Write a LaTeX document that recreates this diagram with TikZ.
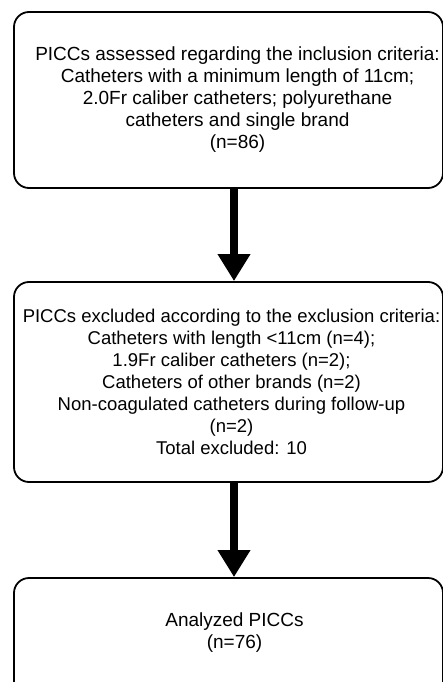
\documentclass[tikz,border=0pt]{standalone}
\usepackage{fontspec}
\setmainfont{Liberation Sans}
\usetikzlibrary{arrows.meta,positioning}
\tikzset{
  flowbox/.style={draw, line width=1.8pt, rounded corners=15pt, minimum width=429pt},
  boxtext/.style={align=center, font=\fontsize{19}{22}\selectfont, inner sep=0pt},
  flowarrow/.style={line width=8pt, -{Triangle[width=31pt,length=27pt]}}
}
\begin{document}
\begin{tikzpicture}[x=1pt,y=-1pt]
  \useasboundingbox (0,0) rectangle (443,682);

  % Boxes of the flow
  \node[flowbox, minimum height=176pt] (incl) at (228.5,100) {};
  \node[flowbox, minimum height=200pt] (excl) at (228.5,382) {};
  \node[flowbox, minimum height=120pt] (anal) at (228.5,638) {};

  % Texts
  \node[boxtext, xshift=9pt] (incltext) at (incl.center)
    {PICCs assessed regarding the inclusion criteria:\\
     Catheters with a minimum length of 11cm;\\
     2.0Fr caliber catheters; polyurethane\\
     catheters and single brand\\
     (n=86)};
  \node[boxtext, font=\fontsize{18.5}{22}\selectfont, xshift=3pt] (excltext) at (excl.center)
    {PICCs excluded according to the exclusion criteria:\\
     Catheters with length <11cm (n=4);\\
     1.9Fr caliber catheters (n=2);\\
     Catheters of other brands (n=2)\\
     Non-coagulated catheters during follow-up\\
     (n=2)\\
     Total excluded: 10};
  \node[boxtext, xshift=6pt, yshift=5pt] (analtext) at (anal.center)
    {Analyzed PICCs\\
     (n=76)};

  % Arrows
  \draw[flowarrow] ([xshift=5.5pt]incl.south) -- ([xshift=5.5pt]excl.north);
  \draw[flowarrow] ([xshift=5.5pt]excl.south) -- ([xshift=5.5pt]anal.north);
\end{tikzpicture}
\end{document}
